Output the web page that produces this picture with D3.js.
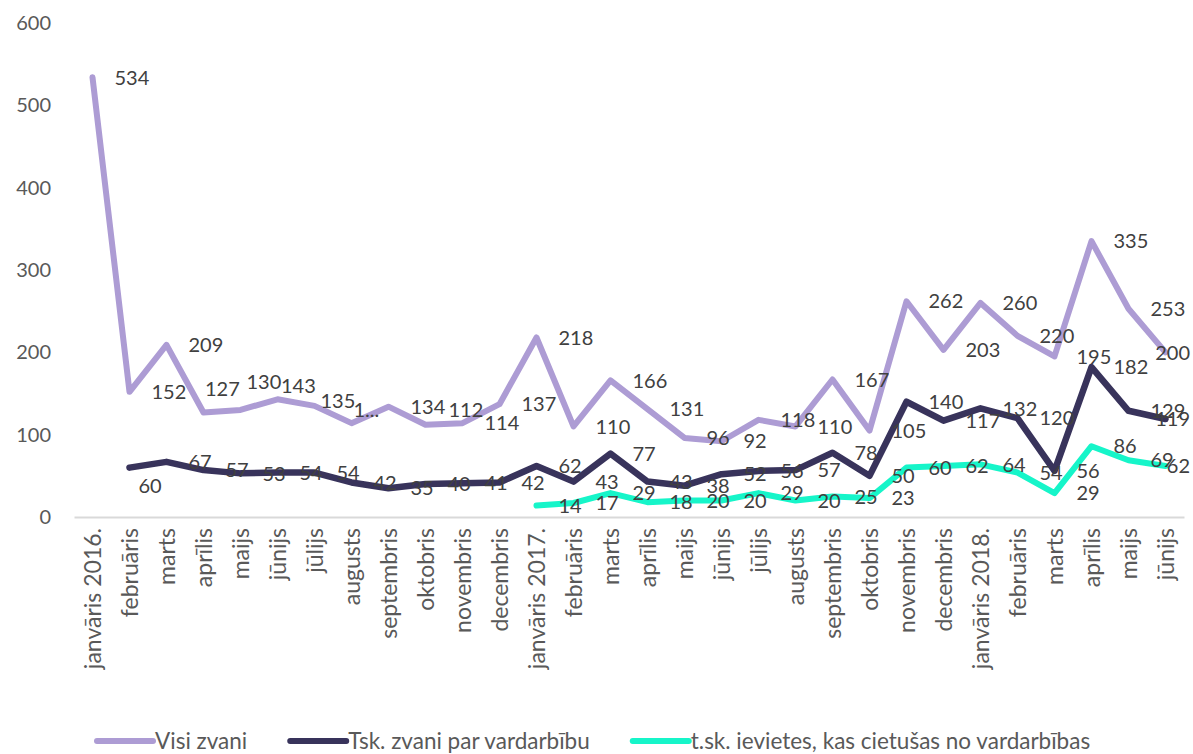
<!DOCTYPE html>
<html>
<head>
<meta charset="utf-8">
<script src="https://cdn.jsdelivr.net/npm/d3@7"></script>
<style>
  body { margin: 0; background: #fff; }
  svg { display: block; }
  text { font-family: Lato, "Open Sans", sans-serif; }
</style>
</head>
<body>
<svg id="chart" width="1193" height="754"></svg>
<script>
// Monthly call counts, January 2016 – June 2018
const months = [
  "janvāris 2016.", "februāris", "marts", "aprīlis", "maijs", "jūnijs",
  "jūlijs", "augusts", "septembris", "oktobris", "novembris", "decembris",
  "janvāris 2017.", "februāris", "marts", "aprīlis", "maijs", "jūnijs",
  "jūlijs", "augusts", "septembris", "oktobris", "novembris", "decembris",
  "janvāris 2018.", "februāris", "marts", "aprīlis", "maijs", "jūnijs"
];

const visiZvani = [
  534, 152, 209, 127, 130, 143, 135, 114, 134, 112, 114, 137,
  218, 110, 166, 131, 96, 92, 118, 110, 167, 105, 262, 203,
  260, 220, 195, 335, 253, 200
];

const zvaniParVardarbibu = [
  null, 60, 67, 57, 53, 54, 54, 42, 35, 40, 41, 42,
  62, 43, 77, 43, 38, 52, 56, 57, 78, 50, 140, 117,
  132, 120, 56, 182, 129, 119
];

const cietusasSievietes = [
  null, null, null, null, null, null, null, null, null, null, null, null,
  14, 17, 29, 18, 20, 20, 29, 20, 25, 23, 60, 62,
  64, 54, 29, 86, 69, 62
];

const seriesNames = [
  "Visi zvani",
  "Tsk. zvani par vardarbību",
  "t.sk. ievietes, kas cietušas no vardarbības"
];

const yTicks = [0, 100, 200, 300, 400, 500, 600];

// Presentation settings
const colors = ["#ad9cd4", "#38335b", "#16f5c9"];
const strokeWidths = [6, 6.5, 6];

// Labels that sit away from the default "right of point" spot
const labelNudges = {
  "0-3": { dx: 1.5, dy: -24 },
  "0-4": { dx: 6, dy: -28 },
  "0-5": { dx: 3.5, dy: -13 },
  "0-6": { dx: 6, dy: -5 },
  "0-7": { dx: 2, dy: -13 },
  "0-9": { dx: 23, dy: -15 },
  "1-1": { dx: 9, dy: 18.5 }
};
// Labels cut short for lack of room
const truncatedLabels = new Set(["0-7"]);

const series = [visiZvani, zvaniParVardarbibu, cietusasSievietes].map((vals, s) => ({
  name: seriesNames[s],
  color: colors[s],
  width: strokeWidths[s],
  points: vals.map((v, i) => ({ i, v }))
}));

const svg = d3.select("#chart");
const plot = { left: 74, right: 1184, top: 23, bottom: 517 };

const x = d3.scalePoint()
  .domain(d3.range(months.length))
  .range([plot.left, plot.right])
  .padding(0.5);

const y = d3.scaleLinear()
  .domain([0, 600])
  .range([plot.bottom, plot.top]);

// Y axis: labels only
const yAxis = d3.axisLeft(y).tickValues(yTicks).tickSize(0).tickPadding(0);
const yg = svg.append("g")
  .attr("transform", "translate(51,0)")
  .call(yAxis);
yg.select(".domain").remove();
yg.selectAll("text")
  .attr("fill", "#595959")
  .style("font-size", "20px")
  .style("font-family", "Lato, 'Open Sans', sans-serif");

// Category axis: baseline + rotated labels
const xAxis = d3.axisBottom(x).tickSize(0).tickPadding(0).tickFormat(i => months[i]);
const xg = svg.append("g")
  .attr("transform", `translate(0,${plot.bottom})`)
  .call(xAxis);
xg.select(".domain")
  .attr("stroke", "#d9d9d9")
  .attr("stroke-width", 2);
xg.selectAll(".tick text")
  .attr("fill", "#595959")
  .style("font-size", "23px")
  .style("font-family", "Lato, 'Open Sans', sans-serif")
  .attr("text-anchor", "end")
  .attr("dy", "0.35em")
  .attr("transform", "translate(0,11) rotate(-90)")
  .attr("x", 0)
  .attr("y", 0);

// Lines
const line = d3.line()
  .defined(d => d.v !== null)
  .x(d => x(d.i))
  .y(d => y(d.v));

svg.append("g")
  .selectAll("path")
  .data(series)
  .join("path")
  .attr("fill", "none")
  .attr("stroke", d => d.color)
  .attr("stroke-width", d => d.width)
  .attr("stroke-linejoin", "round")
  .attr("stroke-linecap", "round")
  .attr("d", d => line(d.points));

// Data labels
const labelG = svg.append("g");
series.forEach((s, si) => {
  s.points.filter(p => p.v !== null).forEach(p => {
    const key = `${si}-${p.i}`;
    const nudge = labelNudges[key] || { dx: 22, dy: 0 };
    const txt = truncatedLabels.has(key) ? String(p.v).slice(0, 1) + "..." : String(p.v);
    const t = labelG.append("text")
      .attr("x", x(p.i) + nudge.dx)
      .attr("y", y(p.v) + nudge.dy)
      .attr("dy", "0.36em")
      .attr("fill", "#404040")
      .style("font-size", "20px")
      .text(txt);
    const w = t.node().getComputedTextLength();
    const maxRight = 1190;
    if (x(p.i) + nudge.dx + w > maxRight) t.attr("x", maxRight - w);
  });
});

// Legend
const legendY = 741;
const swatchLen = 56;
const legend = svg.append("g").attr("transform", "translate(97,0)");
const items = legend.selectAll("g").data(series).join("g");
items.append("line")
  .attr("x1", 0).attr("x2", swatchLen)
  .attr("y1", 0).attr("y2", 0)
  .attr("stroke", d => d.color)
  .attr("stroke-width", 6)
  .attr("stroke-linecap", "round");
items.append("text")
  .attr("x", swatchLen + 2)
  .attr("y", 0)
  .attr("dy", "0.35em")
  .attr("fill", "#595959")
  .style("font-size", "22.5px")
  .text(d => d.name);
let cursor = 0;
const gap = 43;
items.each(function () {
  const g = d3.select(this);
  g.attr("transform", `translate(${cursor},${legendY})`);
  cursor += swatchLen + 2 + g.select("text").node().getComputedTextLength() + gap;
});
</script>
</body>
</html>
